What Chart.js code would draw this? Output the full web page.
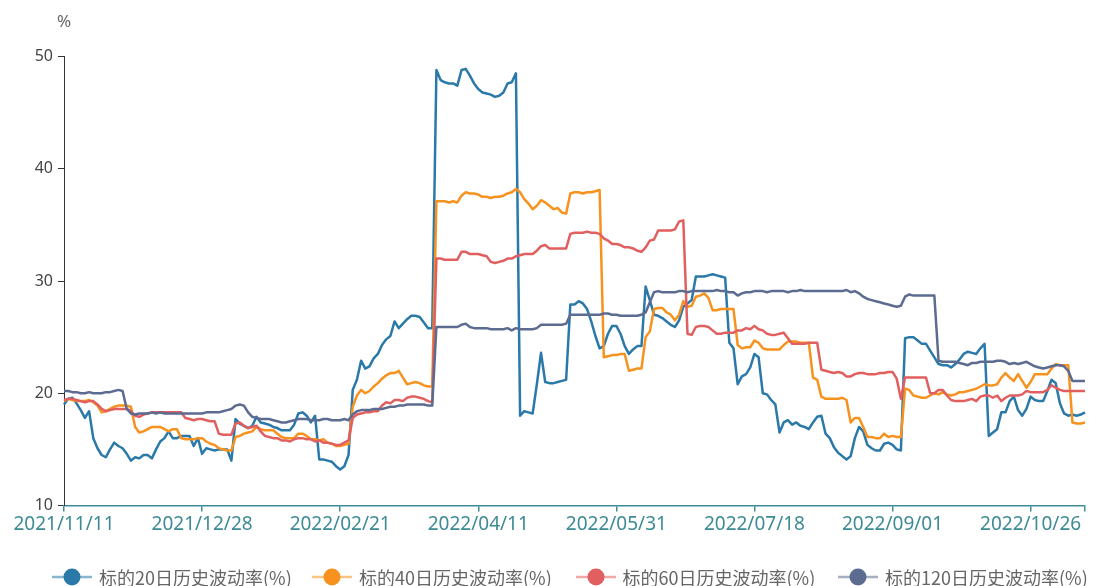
<!DOCTYPE html>
<html>
<head>
<meta charset="utf-8">
<script src="https://cdn.jsdelivr.net/npm/chart.js@4.4.1/dist/chart.umd.min.js"></script>
<style>
  html, body { margin: 0; padding: 0; background: #ffffff; }
  #wrap { position: relative; width: 1096px; height: 586px; overflow: hidden; }
  #c { position: absolute; left: 0; top: 0; }
  #unit { position: absolute; left: 54px; top: 9px; width: 20px; text-align: center;
          font: 17px "Noto Sans", "Open Sans", sans-serif; color: #666; line-height: 24px; }
  .lg { position: absolute; top: 565px; height: 24px; display: flex; align-items: center; white-space: nowrap; }
  .lg span { margin-left: 7px; font: 18px "Noto Sans CJK SC", "Noto Sans", sans-serif; color: #666; line-height: 24px; }
</style>
</head>
<body>
<div id="wrap">
  <canvas id="c" width="1096" height="586"></canvas>
  <div id="unit">%</div>
  <div id="legend"></div>
</div>
<script>
// ---- categories (trading days) ----
const startDate = '2021-11-11';
const pointCount = 245;
const holidays = ['2022-01-03','2022-01-31','2022-02-01','2022-02-02','2022-02-03','2022-02-04',
  '2022-04-04','2022-04-05','2022-05-02','2022-05-03','2022-05-04','2022-06-03','2022-09-12',
  '2022-10-03','2022-10-04','2022-10-05','2022-10-06','2022-10-07'];
const tickLabels = ['2021/11/11','2021/12/28','2022/02/21','2022/04/11','2022/05/31','2022/07/18','2022/09/01','2022/10/26'];
const seriesNames = ['标的20日历史波动率(%)','标的40日历史波动率(%)','标的60日历史波动率(%)','标的120日历史波动率(%)'];
const seriesColors = ['#2a79a8','#f7921e','#e15f5f','#5c6b90'];

// ---- series values (%) ----
const vol20 = [19.0,19.5,19.6,19.1,18.5,17.8,18.4,16.0,15.1,14.5,
 14.3,15.0,15.6,15.3,15.1,14.6,14.0,14.3,14.2,14.5,
 14.5,14.2,15.0,15.7,16.0,16.6,16.0,16.0,16.2,16.2,
 16.2,15.3,16.0,14.6,15.1,15.0,14.9,15.0,15.0,15.0,
 14.0,17.7,17.3,17.1,16.9,17.1,17.9,17.4,17.3,17.2,
 17.0,16.9,16.7,16.7,16.7,17.2,18.2,18.3,18.0,17.4,
 18.0,14.1,14.1,14.0,13.9,13.5,13.2,13.5,14.5,20.3,
 21.2,22.9,22.2,22.4,23.1,23.5,24.3,24.8,25.1,26.4,
 25.8,26.2,26.6,26.9,26.9,26.8,26.3,25.8,25.8,48.8,
 47.9,47.7,47.6,47.6,47.4,48.8,48.9,48.3,47.6,47.1,
 46.8,46.7,46.6,46.4,46.5,46.8,47.6,47.7,48.5,18.0,
 18.4,18.3,18.2,20.8,23.6,21.0,20.9,20.9,21.0,21.1,
 21.2,27.9,27.9,28.2,28.0,27.5,26.4,25.1,24.0,24.2,
 25.3,26.0,26.0,25.3,24.2,23.5,23.9,24.2,24.2,29.5,
 28.3,27.0,26.9,26.7,26.4,26.1,25.9,26.5,27.7,28.0,
 28.3,30.4,30.4,30.4,30.5,30.6,30.5,30.4,30.3,24.5,
 24.0,20.8,21.5,21.7,22.3,23.5,23.2,20.0,19.9,19.4,
 19.0,16.5,17.4,17.6,17.2,17.4,17.1,17.0,16.8,17.4,
 17.9,18.0,16.4,16.0,15.2,14.7,14.4,14.1,14.4,16.0,
 17.0,16.6,15.4,15.1,14.9,14.9,15.5,15.6,15.4,15.0,
 14.9,24.9,25.0,25.0,24.7,24.4,24.4,23.8,23.2,22.6,
 22.5,22.5,22.3,22.6,23.0,23.5,23.7,23.6,23.5,24.0,
 24.4,16.2,16.5,16.8,18.3,18.3,19.3,19.7,18.5,18.0,
 18.6,19.7,19.4,19.3,19.3,20.2,21.2,20.9,19.1,18.2,
 18.0,18.1,18.0,18.1,18.3];

const vol40 = [19.3,19.5,19.4,19.3,19.3,19.3,19.4,19.2,18.9,18.3,
 18.4,18.6,18.8,18.9,18.9,18.9,18.8,17.0,16.5,16.6,
 16.8,17.0,17.0,17.0,16.8,16.6,16.8,16.8,16.0,15.9,
 15.9,15.9,16.0,16.0,15.7,15.5,15.4,15.1,15.0,14.9,
 14.9,16.1,16.2,16.4,16.5,16.6,17.0,16.8,16.7,16.7,
 16.7,16.4,16.1,16.0,16.0,16.0,16.4,16.4,16.2,15.9,
 15.9,15.8,15.9,15.6,15.5,15.3,15.3,15.4,15.5,18.8,
 19.8,20.3,20.0,20.2,20.6,20.9,21.3,21.6,21.8,21.8,
 22.0,21.4,20.8,20.9,21.0,20.9,20.7,20.6,20.6,37.1,
 37.1,37.1,37.0,37.1,37.0,37.6,37.9,37.8,37.8,37.7,
 37.5,37.5,37.4,37.5,37.5,37.6,37.8,37.9,38.2,37.9,
 37.3,36.9,36.4,36.7,37.2,37.0,36.7,36.4,36.5,36.1,
 36.0,37.8,37.9,37.9,37.8,37.9,37.9,38.0,38.1,23.2,
 23.3,23.4,23.4,23.5,23.5,22.0,22.1,22.2,22.2,25.0,
 25.5,27.5,27.6,27.6,27.2,27.0,26.5,27.0,28.2,27.7,
 27.8,28.6,28.7,28.9,28.5,27.4,27.4,27.5,27.5,27.5,
 27.5,24.3,24.0,24.1,24.1,24.7,24.5,24.0,23.9,23.9,
 23.9,23.9,24.3,24.6,24.6,24.6,24.5,24.5,24.5,21.4,
 21.2,19.7,19.5,19.5,19.5,19.5,19.6,19.4,17.4,17.8,
 17.8,17.0,16.1,16.1,16.0,16.0,16.4,16.1,16.2,16.1,
 16.1,20.4,20.3,19.8,19.7,19.6,19.6,19.8,20.0,19.9,
 20.1,19.9,19.8,19.9,20.1,20.1,20.2,20.3,20.4,20.6,
 20.8,20.7,20.7,20.8,21.4,21.8,21.4,21.1,21.7,21.1,
 20.5,21.0,21.7,21.7,21.7,21.7,22.2,22.6,22.5,22.5,
 22.5,17.4,17.3,17.3,17.4];

const vol60 = [19.4,19.5,19.5,19.4,19.3,19.2,19.3,19.3,19.0,18.6,
 18.4,18.5,18.6,18.6,18.6,18.6,18.4,18.0,17.9,18.1,
 18.2,18.3,18.3,18.3,18.3,18.3,18.3,18.3,18.3,17.8,
 17.7,17.6,17.7,17.7,17.6,17.5,17.5,16.4,16.3,16.3,
 16.3,17.3,17.4,17.1,16.9,17.0,17.1,16.6,16.2,16.1,
 16.0,16.0,15.8,15.8,15.7,15.9,16.0,16.0,15.9,15.9,
 15.7,15.8,15.6,15.6,15.5,15.4,15.4,15.6,15.8,17.8,
 18.1,18.2,18.3,18.3,18.4,18.4,18.9,19.2,19.1,19.4,
 19.4,19.3,19.6,19.7,19.7,19.6,19.5,19.3,19.2,32.0,
 32.0,31.9,31.9,31.9,31.9,32.6,32.6,32.4,32.4,32.4,
 32.3,32.2,31.7,31.6,31.7,31.8,32.0,32.0,32.2,32.3,
 32.4,32.4,32.4,32.7,33.1,33.2,32.9,32.9,32.9,32.9,
 32.9,34.2,34.3,34.3,34.3,34.4,34.3,34.3,34.2,33.8,
 33.6,33.3,33.3,33.2,33.0,33.0,32.9,32.7,32.6,33.0,
 33.6,33.7,34.5,34.5,34.5,34.5,34.6,35.3,35.4,25.3,
 25.2,25.9,26.0,26.0,25.9,25.6,25.3,25.3,25.4,25.4,
 25.4,25.6,25.6,25.8,25.7,26.0,25.7,25.6,25.3,25.2,
 25.2,25.3,25.4,24.9,24.4,24.4,24.4,24.4,24.5,24.5,
 24.5,22.1,22.0,21.9,21.8,21.9,21.8,21.5,21.5,21.7,
 21.8,21.8,21.7,21.7,21.7,21.8,21.8,21.9,21.9,21.3,
 19.5,21.4,21.4,21.4,21.4,21.4,21.4,20.0,20.0,20.3,
 20.3,19.8,19.4,19.3,19.3,19.3,19.4,19.5,19.3,19.7,
 19.8,19.8,19.6,19.8,19.3,19.6,19.8,19.8,19.8,19.9,
 20.2,20.1,20.1,20.1,20.1,20.3,20.7,20.5,20.3,20.2,
 20.2,20.2,20.2,20.2,20.2];

const vol120 = [20.2,20.2,20.1,20.1,20.0,20.0,20.1,20.0,20.0,20.0,
 20.1,20.1,20.2,20.3,20.2,18.6,18.2,18.1,18.2,18.2,
 18.2,18.3,18.2,18.3,18.2,18.2,18.2,18.2,18.2,18.2,
 18.2,18.2,18.2,18.2,18.3,18.3,18.3,18.3,18.4,18.5,
 18.6,18.9,19.0,18.9,18.3,17.9,17.8,17.7,17.7,17.7,
 17.6,17.5,17.4,17.4,17.5,17.6,17.7,17.7,17.7,17.6,
 17.6,17.6,17.7,17.7,17.6,17.6,17.6,17.7,17.6,18.1,
 18.4,18.5,18.5,18.5,18.6,18.6,18.6,18.7,18.8,18.8,
 18.9,18.9,19.0,19.0,19.0,19.0,19.0,18.9,18.9,25.9,
 25.9,25.9,25.9,25.9,25.9,26.1,26.2,25.9,25.8,25.8,
 25.8,25.8,25.7,25.7,25.7,25.7,25.8,25.6,25.8,25.7,
 25.7,25.7,25.7,25.8,26.1,26.1,26.1,26.1,26.1,26.1,
 26.2,27.0,27.0,27.0,27.0,27.0,27.0,27.0,27.0,27.1,
 27.1,27.0,27.0,26.9,26.9,26.9,26.9,26.9,27.0,27.2,
 28.1,29.0,29.1,29.0,29.0,29.0,29.0,29.1,29.1,29.0,
 29.1,29.1,29.1,29.1,29.1,29.1,29.2,29.1,29.1,29.0,
 29.0,28.7,28.9,29.0,29.0,29.1,29.1,29.1,29.0,29.1,
 29.1,29.1,29.1,29.0,29.1,29.1,29.2,29.1,29.1,29.1,
 29.1,29.1,29.1,29.1,29.1,29.1,29.1,29.2,29.0,29.1,
 28.9,28.6,28.4,28.3,28.2,28.1,28.0,27.9,27.8,27.7,
 27.8,28.6,28.8,28.7,28.7,28.7,28.7,28.7,28.7,22.9,
 22.8,22.8,22.8,22.8,22.7,22.6,22.5,22.7,22.7,22.8,
 22.8,22.8,22.8,22.9,22.9,22.8,22.6,22.7,22.6,22.7,
 22.8,22.6,22.4,22.3,22.2,22.3,22.4,22.5,22.5,22.4,
 22.0,21.1,21.1,21.1,21.1];

const seriesValues = [vol20, vol40, vol60, vol120];

// ---- build trading-day category labels ----
function tradingDays(start, count, skip) {
  const out = [];
  const d = new Date(start + 'T00:00:00Z');
  while (out.length < count) {
    const iso = d.toISOString().slice(0, 10);
    const wd = d.getUTCDay();
    if (wd !== 0 && wd !== 6 && !skip.includes(iso)) out.push(iso.replace(/-/g, '/'));
    d.setUTCDate(d.getUTCDate() + 1);
  }
  return out;
}
const dates = tradingDays(startDate, pointCount, holidays);

const TEAL = '#3d8b94';
const AXIS_DARK = '#333333';

const datasets = seriesNames.map((name, k) => ({
  label: name,
  data: seriesValues[k],
  borderColor: seriesColors[k],
  backgroundColor: seriesColors[k],
  borderWidth: 2.5,
  pointRadius: 0,
  pointHoverRadius: 4,
  tension: 0,
  fill: false,
  borderJoinStyle: 'round',
  order: seriesNames.length - 1 - k
}));

const isLabeled = (i) => tickLabels.includes(dates[i]) || i === dates.length - 1;

new Chart(document.getElementById('c'), {
  type: 'line',
  data: { labels: dates, datasets },
  options: {
    responsive: false,
    animation: false,
    layout: { padding: { top: 56.5, right: 11, left: 0, bottom: 0 } },
    plugins: { legend: { display: false }, tooltip: { mode: 'index', intersect: false } },
    scales: {
      x: {
        type: 'category',
        offset: false,
        grid: {
          display: true, drawOnChartArea: false, drawTicks: true, tickLength: 6,
          lineWidth: 1.5,
          color: (ctx) => isLabeled(ctx.index) ? TEAL : 'rgba(0,0,0,0)'
        },
        border: { display: true, color: TEAL, width: 1.5 },
        ticks: {
          autoSkip: false, maxRotation: 0, minRotation: 0, padding: 2,
          color: TEAL,
          font: { size: 19, family: '"Noto Sans", "Open Sans", sans-serif' },
          callback: (v, i) => tickLabels.includes(dates[i]) ? dates[i] : ''
        },
        afterFit: (s) => { s.height = 80.5; }
      },
      y: {
        min: 10, max: 50,
        grid: { display: true, drawOnChartArea: false, drawTicks: true, tickLength: 6, color: AXIS_DARK, lineWidth: 1 },
        border: { display: true, color: AXIS_DARK, width: 1 },
        ticks: {
          stepSize: 10, padding: 5, color: '#444',
          font: { size: 16, family: '"Noto Sans", "Open Sans", sans-serif' }
        },
        afterFit: (s) => { s.width = 64; }
      }
    }
  }
});

// ---- HTML legend ----
const legendX = [52, 312, 575.5, 838];
const legend = document.getElementById('legend');
seriesNames.forEach((name, k) => {
  const item = document.createElement('div');
  item.className = 'lg';
  item.style.left = legendX[k] + 'px';
  const c = seriesColors[k];
  item.innerHTML =
    '<svg width="40" height="20" viewBox="0 0 40 20">' +
    '<line x1="0" y1="10" x2="40" y2="10" stroke="' + c + '" stroke-opacity="0.55" stroke-width="2.5"/>' +
    '<circle cx="20" cy="10" r="8.5" fill="' + c + '"/></svg>' +
    '<span>' + name + '</span>';
  legend.appendChild(item);
});
</script>
</body>
</html>
